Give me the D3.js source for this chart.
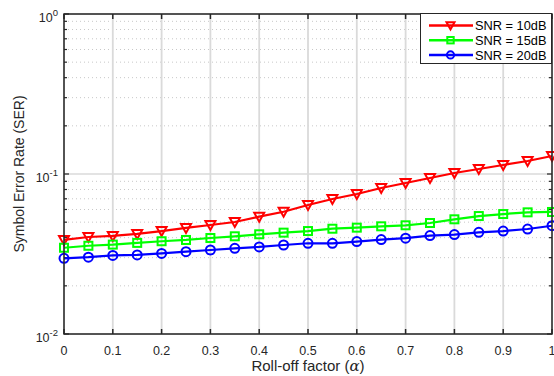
<!DOCTYPE html>
<html>
<head>
<meta charset="utf-8">
<script src="https://cdn.jsdelivr.net/npm/d3@7"></script>
<style>
  body { margin: 0; background: #fff; }
  text { font-family: "Liberation Sans", Arial, sans-serif; }
</style>
</head>
<body>
<div id="vis"></div>
<script>
// roll-off factor values
const ALPHA = [0, 0.05, 0.1, 0.15, 0.2, 0.25, 0.3, 0.35, 0.4, 0.45, 0.5,
               0.55, 0.6, 0.65, 0.7, 0.75, 0.8, 0.85, 0.9, 0.95, 1];

// SER
const SER_10DB = [0.0387, 0.0404, 0.0410, 0.0422, 0.0440, 0.0460, 0.0480, 0.0501, 0.0541, 0.0581, 0.0640,
                  0.0698, 0.0750, 0.0818, 0.0879, 0.0944, 0.1015, 0.1075, 0.1138, 0.1206, 0.1296];
const SER_15DB = [0.0346, 0.0356, 0.0362, 0.0371, 0.0380, 0.0387, 0.0398, 0.0408, 0.0420, 0.0430, 0.0440,
                  0.0455, 0.0462, 0.0471, 0.0478, 0.0494, 0.0521, 0.0546, 0.0562, 0.0576, 0.0579];
const SER_20DB = [0.0297, 0.0302, 0.0310, 0.0312, 0.0319, 0.0327, 0.0335, 0.0343, 0.0350, 0.0360, 0.0369,
                  0.0369, 0.0378, 0.0389, 0.0397, 0.0412, 0.0418, 0.0432, 0.0440, 0.0453, 0.0475];

const SERIES_NAMES = ["SNR = 10dB", "SNR = 15dB", "SNR = 20dB"];
const X_TICKS = [0, 0.1, 0.2, 0.3, 0.4, 0.5, 0.6, 0.7, 0.8, 0.9, 1];
const Y_DECADES = [-2, -1, 0];

const FRAME_WIDTH = 554;
const FRAME_HEIGHT = 376;
const MARGINS = {left: 64, right: 2, top: 14, bottom: 42};
const VIS_WIDTH = FRAME_WIDTH - MARGINS.left - MARGINS.right;
const VIS_HEIGHT = FRAME_HEIGHT - MARGINS.top - MARGINS.bottom;

const svg = d3.select("#vis")
  .append("svg")
    .attr("width", FRAME_WIDTH)
    .attr("height", FRAME_HEIGHT);

const X_SCALE = d3.scaleLinear().domain([0, 1]).range([0, VIS_WIDTH]);
const Y_SCALE = d3.scaleLog().domain([0.01, 1]).range([VIS_HEIGHT, 0]);

const g = svg.append("g")
  .attr("transform", "translate(" + MARGINS.left + "," + MARGINS.top + ")");

// minor horizontal grid (dotted)
const minorVals = [];
[0.01, 0.1].forEach(d => { for (let k = 2; k <= 9; k++) minorVals.push(d * k); });

g.selectAll(".minor")
  .data(minorVals)
  .enter().append("line")
    .attr("x1", 0).attr("x2", VIS_WIDTH)
    .attr("y1", d => Y_SCALE(d)).attr("y2", d => Y_SCALE(d))
    .attr("stroke", "#c8c8c8")
    .attr("stroke-width", 1)
    .attr("stroke-dasharray", "1,3");

// major grid
g.selectAll(".vgrid")
  .data(X_TICKS)
  .enter().append("line")
    .attr("x1", d => X_SCALE(d)).attr("x2", d => X_SCALE(d))
    .attr("y1", 0).attr("y2", VIS_HEIGHT)
    .attr("stroke", "#dadada")
    .attr("stroke-width", 1.8);

g.selectAll(".hgrid")
  .data(Y_DECADES)
  .enter().append("line")
    .attr("x1", 0).attr("x2", VIS_WIDTH)
    .attr("y1", d => Y_SCALE(Math.pow(10, d))).attr("y2", d => Y_SCALE(Math.pow(10, d)))
    .attr("stroke", "#dadada")
    .attr("stroke-width", 1.5);

// tick marks inside the box
const tickLen = 5;
X_TICKS.forEach(t => {
  g.append("line").attr("x1", X_SCALE(t)).attr("x2", X_SCALE(t))
    .attr("y1", VIS_HEIGHT).attr("y2", VIS_HEIGHT - tickLen)
    .attr("stroke", "#262626").attr("stroke-width", 1.5);
  g.append("line").attr("x1", X_SCALE(t)).attr("x2", X_SCALE(t))
    .attr("y1", 0).attr("y2", tickLen)
    .attr("stroke", "#262626").attr("stroke-width", 1.5);
});
minorVals.concat(Y_DECADES.map(d => Math.pow(10, d))).forEach(v => {
  const len = Y_DECADES.map(d => Math.pow(10, d)).includes(v) ? tickLen : 3;
  g.append("line").attr("x1", 0).attr("x2", len)
    .attr("y1", Y_SCALE(v)).attr("y2", Y_SCALE(v))
    .attr("stroke", "#262626").attr("stroke-width", 1.2);
  g.append("line").attr("x1", VIS_WIDTH).attr("x2", VIS_WIDTH - len)
    .attr("y1", Y_SCALE(v)).attr("y2", Y_SCALE(v))
    .attr("stroke", "#262626").attr("stroke-width", 1.2);
});

// x tick labels
g.selectAll(".xlab")
  .data(X_TICKS)
  .enter().append("text")
    .attr("x", d => X_SCALE(d))
    .attr("y", VIS_HEIGHT + 21)
    .attr("text-anchor", "middle")
    .attr("font-size", "12.5px")
    .attr("fill", "#262626")
    .text(d => d3.format("~g")(d));

// y tick labels 10^n
Y_DECADES.forEach(d => {
  const t = g.append("text")
    .attr("x", -6)
    .attr("y", Y_SCALE(Math.pow(10, d)) + 8)
    .attr("text-anchor", "end")
    .attr("font-size", "12.5px")
    .attr("fill", "#262626");
  t.append("tspan").text("10");
  t.append("tspan").attr("dy", -6).attr("font-size", "9.5px").text(d);
});

// axis titles
svg.append("text")
  .attr("x", MARGINS.left + VIS_WIDTH / 2)
  .attr("y", 371)
  .attr("text-anchor", "middle")
  .attr("font-size", "15px")
  .attr("fill", "#262626")
  .html('Roll-off factor (<tspan font-style="italic" font-family="DejaVu Serif">α</tspan>)');

svg.append("text")
  .attr("transform", "translate(24," + (MARGINS.top + VIS_HEIGHT / 2) + ") rotate(-90)")
  .attr("text-anchor", "middle")
  .attr("font-size", "14px")
  .attr("fill", "#262626")
  .text("Symbol Error Rate (SER)");

// series
const series = [
  {name: SERIES_NAMES[0], values: SER_10DB, color: "#ff0000", symbol: "tri"},
  {name: SERIES_NAMES[1], values: SER_15DB, color: "#00ff00", symbol: "sq"},
  {name: SERIES_NAMES[2], values: SER_20DB, color: "#0000ff", symbol: "circ"}
];

const line = d3.line()
  .x((d, i) => X_SCALE(ALPHA[i]))
  .y(d => Y_SCALE(d));

function drawMarker(sel, symbol, color, k) {
  if (symbol === "tri") {
    sel.append("path").attr("d", "M-5,-4L5,-4L0,5Z").attr("transform", "scale(" + k + ")")
      .attr("fill", "none").attr("stroke", color).attr("stroke-width", 2 / k);
  } else if (symbol === "sq") {
    sel.append("rect").attr("x", -4 * k).attr("y", -4 * k).attr("width", 8 * k).attr("height", 8 * k)
      .attr("fill", "none").attr("stroke", color).attr("stroke-width", 2);
  } else {
    sel.append("circle").attr("r", 4.5 * k)
      .attr("fill", "none").attr("stroke", color).attr("stroke-width", 2);
  }
}

series.forEach(s => {
  g.append("path")
    .datum(s.values)
    .attr("d", line)
    .attr("fill", "none")
    .attr("stroke", s.color)
    .attr("stroke-width", 2.2);
  s.values.forEach((v, i) => {
    const m = g.append("g").attr("transform", "translate(" + X_SCALE(ALPHA[i]) + "," + Y_SCALE(v) + ")");
    drawMarker(m, s.symbol, s.color, 1);
  });
});

// box
g.append("rect")
  .attr("width", VIS_WIDTH).attr("height", VIS_HEIGHT)
  .attr("fill", "none").attr("stroke", "#262626").attr("stroke-width", 1.5);

// legend
const lg = svg.append("g").attr("transform", "translate(420.5,13.5)");
lg.append("rect").attr("width", 131).attr("height", 50)
  .attr("fill", "#fff").attr("stroke", "#262626").attr("stroke-width", 1);
series.forEach((s, i) => {
  const y = 12 + i * 14.7;
  lg.append("line").attr("x1", 8.5).attr("x2", 52.5).attr("y1", y).attr("y2", y)
    .attr("stroke", s.color).attr("stroke-width", 2.5);
  const m = lg.append("g").attr("transform", "translate(30," + y + ")");
  drawMarker(m, s.symbol, s.color, 0.8);
  lg.append("text").attr("x", 54.5).attr("y", y + 4.8)
    .attr("font-size", "12.8px").attr("fill", "#000").text(s.name);
});
</script>
</body>
</html>
